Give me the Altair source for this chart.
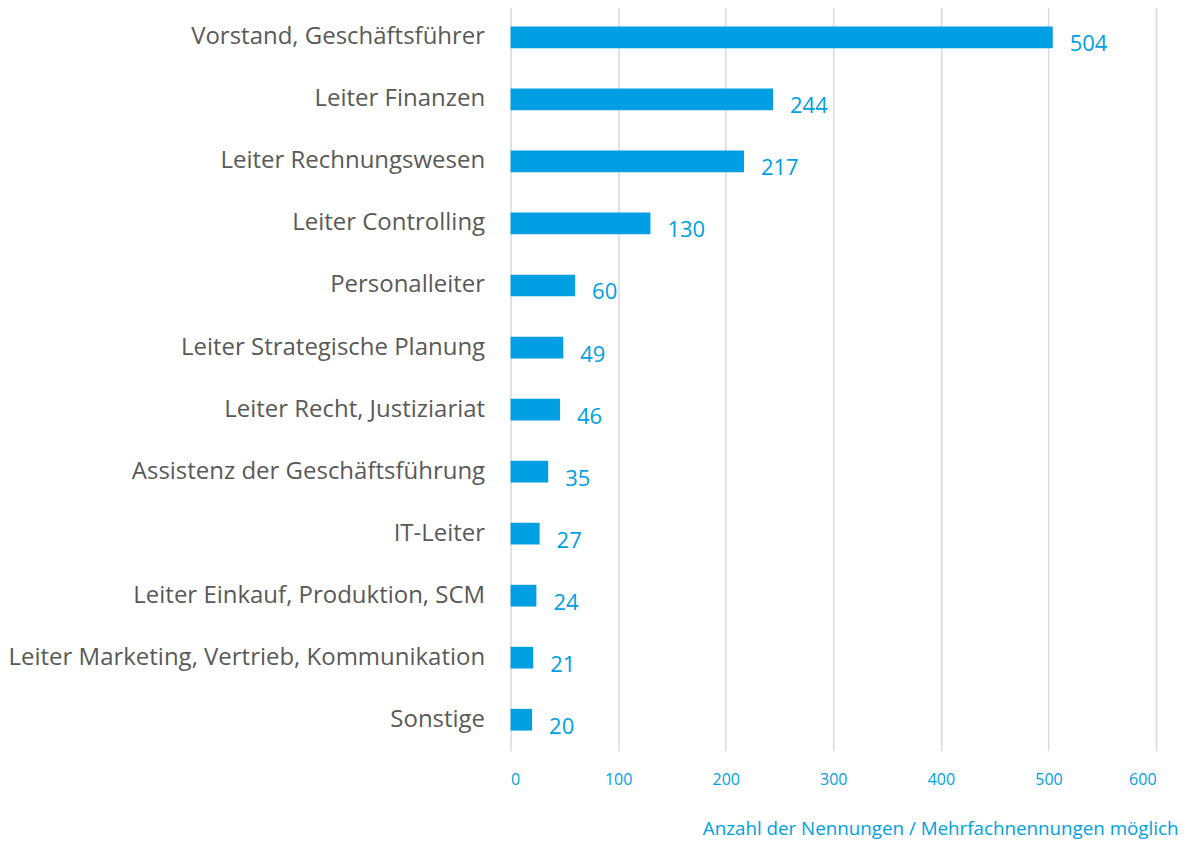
import altair as alt
import pandas as pd

categories = [
    "Vorstand, Geschäftsführer",
    "Leiter Finanzen",
    "Leiter Rechnungswesen",
    "Leiter Controlling",
    "Personalleiter",
    "Leiter Strategische Planung",
    "Leiter Recht, Justiziariat",
    "Assistenz der Geschäftsführung",
    "IT-Leiter",
    "Leiter Einkauf, Produktion, SCM",
    "Leiter Marketing, Vertrieb, Kommunikation",
    "Sonstige",
]
values = [504, 244, 217, 130, 60, 49, 46, 35, 27, 24, 21, 20]
x_ticks = [0, 100, 200, 300, 400, 500, 600]
x_title = "Anzahl der Nennungen / Mehrfachnennungen möglich"

df = pd.DataFrame({"Kategorie": categories, "Wert": values})

BLUE = "#009FE3"
GRAY = "#595959"
FONT = "Open Sans"

y_enc = alt.Y(
    "Kategorie:N",
    sort=categories,
    scale=alt.Scale(paddingInner=0.65, paddingOuter=0.325),
    axis=alt.Axis(
        title=None, ticks=False, domain=False, grid=False,
        labelFont=FONT, labelFontSize=24, labelColor=GRAY,
        labelPadding=26, labelLimit=700,
    ),
)
x_enc = alt.X(
    "Wert:Q",
    scale=alt.Scale(domain=[0, 600], nice=False),
    axis=alt.Axis(
        values=x_ticks, title=x_title, ticks=False, domain=False,
        grid=True, gridColor="#D9D9D9", gridWidth=1.5,
        labelFont=FONT, labelFontSize=16, labelColor=BLUE, labelPadding=21,
        titleFont=FONT, titleFontSize=18.8, titleColor=BLUE,
        titleFontWeight="normal", titleAnchor="end", titleAlign="right",
        titleX=668, titleY=84, titleBaseline="alphabetic",
    ),
)

bars = alt.Chart(df).mark_bar(color=BLUE).encode(x=x_enc, y=y_enc)
labels = alt.Chart(df).mark_text(
    align="left", baseline="middle", dx=17, dy=7,
    font=FONT, fontSize=22, color=BLUE,
).encode(x="Wert:Q", y=alt.Y("Kategorie:N", sort=categories), text="Wert:Q")

chart = (
    (bars + labels)
    .properties(
        width=646, height=745,
        autosize=alt.AutoSizeParams(type="none"),
        padding={"left": 503, "top": -2, "right": 30, "bottom": 92},
    )
    .configure_view(stroke=None)
)

chart.save("out.html", embed_options={"renderer": "svg", "actions": False})
